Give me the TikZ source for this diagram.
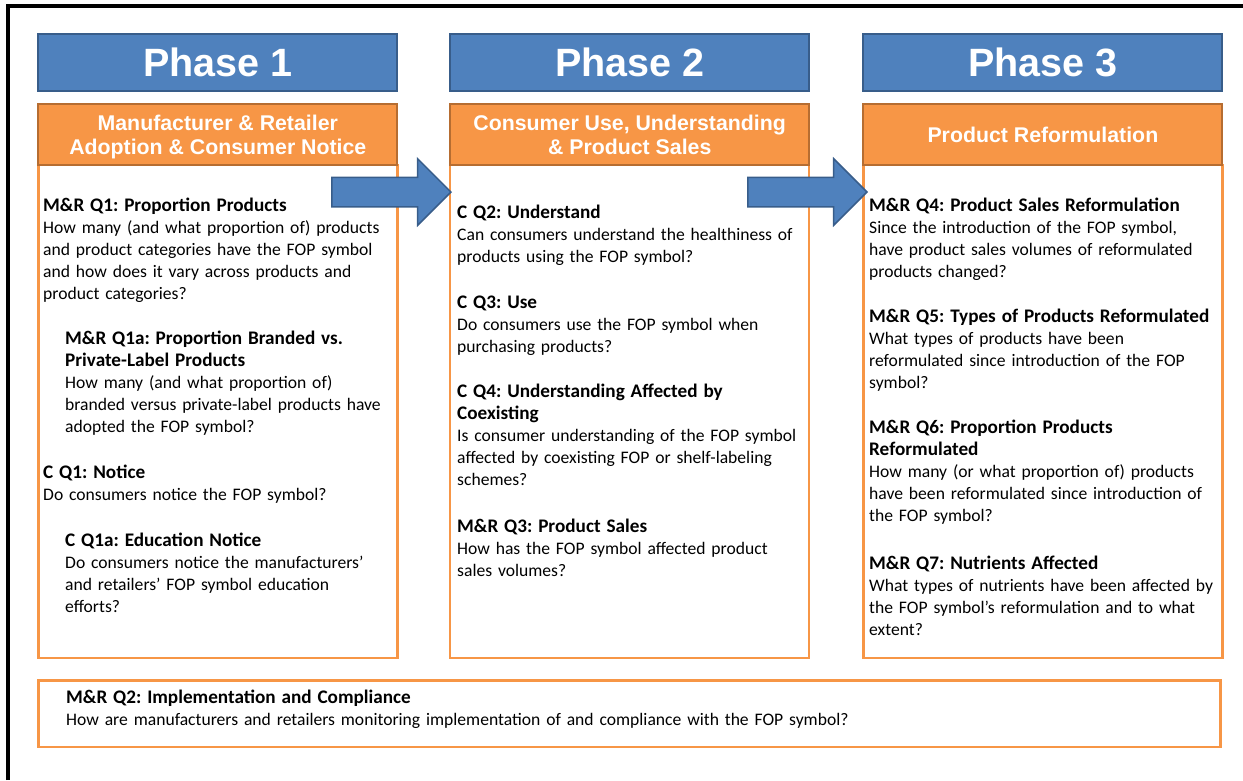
\documentclass[tikz,border=0pt]{standalone}
\usepackage{fontspec}
\setmainfont{Carlito}
\newfontfamily\headfont{Liberation Sans}
\usetikzlibrary{shapes.arrows}

\definecolor{phaseblue}{RGB}{79,129,189}
\definecolor{phaseline}{RGB}{56,93,138}
\definecolor{titleorange}{RGB}{247,150,70}
\definecolor{titleline}{RGB}{182,109,49}

\newcommand{\qfont}{\frenchspacing\fontsize{17.6}{21.9}\selectfont}
\newcommand{\qhead}[1]{{\fontsize{19.2}{21.9}\selectfont\bfseries #1}}

\begin{document}
\begin{tikzpicture}[x=1pt,y=-1pt]

        \useasboundingbox (0,0) rectangle (1243,780);
        \draw[line width=4pt] (8,780) -- (8,5.5) -- (1243,5.5);

        \begin{scope}[every node/.style={draw=phaseline,fill=phaseblue,line width=2pt,
            minimum width=359pt,minimum height=56.5pt,text=white,
            font=\headfont\bfseries\fontsize{39.5}{44}\selectfont}]
          \node (p1) at (217.8,62.5)  {Phase 1};
          \node (p2) at (629.7,62.5)  {Phase 2};
          \node (p3) at (1042.9,62.5) {Phase 3};
        \end{scope}

        \begin{scope}[every node/.style={draw=titleorange,line width=2.5pt}]
          \node[minimum width=359pt,minimum height=493pt] (b1) at (217.8,411.5)  {};
          \node[minimum width=359pt,minimum height=493pt] (b2) at (629.7,411.5)  {};
          \node[minimum width=359pt,minimum height=493pt] (b3) at (1042.9,411.5) {};
          \node[minimum width=1182pt,minimum height=66.5pt] (b4) at (629.5,713.8) {};
        \end{scope}

        \begin{scope}[every node/.style={draw=titleline,fill=titleorange,line width=2pt,
            minimum width=359pt,minimum height=60.7pt,text=white,align=center,
            text depth=0pt,font=\headfont\bfseries\fontsize{21.3}{24}\selectfont}]
          \node (t1) at (217.8,134.7)  {Manufacturer \& Retailer\\Adoption \& Consumer Notice};
          \node (t2) at (629.7,134.7)  {Consumer Use, Understanding\\\& Product Sales};
          \node (t3) at (1042.9,134.7) {Product Reformulation};
        \end{scope}

        \begin{scope}[every node/.style={anchor=base west,inner sep=0pt,
            text width=370pt,align=left,font=\qfont}]
          % phase 1
          \node (mrq1)  at (43,211.7)  {\qhead{M\&R Q1: Proportion Products}\\How many (and what proportion of) products\\and product categories have the FOP symbol\\and how does it vary across products and\\product categories?};
          \node (mrq1a) at (65,344.5)  {\qhead{M\&R Q1a: Proportion Branded vs.}\\\qhead{Private-Label Products}\\How many (and what proportion of)\\branded versus private-label products have\\adopted the FOP symbol?};
          \node (cq1)   at (43,478.5)  {\qhead{C Q1: Notice}\\Do consumers notice the FOP symbol?};
          \node (cq1a)  at (65,546.5)  {\qhead{C Q1a: Education Notice}\\Do consumers notice the manufacturers’\\and retailers’ FOP symbol education\\efforts?};
          % phase 2
          \node (cq2)   at (457,218.5) {\qhead{C Q2: Understand}\\Can consumers understand the healthiness of\\products using the FOP symbol?};
          \node (cq3)   at (457,308.5) {\qhead{C Q3: Use}\\Do consumers use the FOP symbol when\\purchasing products?};
          \node (cq4)   at (457,397.5) {\qhead{C Q4: Understanding Affected by}\\\qhead{Coexisting}\\Is consumer understanding of the FOP symbol\\affected by coexisting FOP or shelf-labeling\\schemes?};
          \node (mrq3)  at (457,532.5) {\qhead{M\&R Q3: Product Sales}\\How has the FOP symbol affected product\\sales volumes?};
          % phase 3
          \node (mrq4)  at (869,211.5) {\qhead{M\&R Q4: Product Sales Reformulation}\\Since the introduction of the FOP symbol,\\have product sales volumes of reformulated\\products changed?};
          \node (mrq5)  at (869,322.5) {\qhead{M\&R Q5: Types of Products Reformulated}\\What types of products have been\\reformulated since introduction of the FOP\\symbol?};
          \node (mrq6)  at (869,433.5) {\qhead{M\&R Q6: Proportion Products}\\\qhead{Reformulated}\\How many (or what proportion of) products\\have been reformulated since introduction of\\the FOP symbol?};
          \node (mrq7)  at (869,569.5) {\qhead{M\&R Q7: Nutrients Affected}\\What types of nutrients have been affected by\\the FOP symbol’s reformulation and to what\\extent?};
          % across all phases
          \node[text width=1100pt] (mrq2) at (66,703.5) {\qhead{M\&R Q2: Implementation and Compliance}\\How are manufacturers and retailers monitoring implementation of and compliance with the FOP symbol?};
        \end{scope}

        \begin{scope}[every node/.style={single arrow,draw=phaseline,fill=phaseblue,
            line width=1.5pt,minimum height=119pt,inner xsep=0pt,inner ysep=14pt,
            single arrow head extend=18.5pt,anchor=tip}]
          \node (a12) at (452,192) {};
          \node (a23) at (868,192) {};
        \end{scope}

      \end{tikzpicture}
\end{document}
